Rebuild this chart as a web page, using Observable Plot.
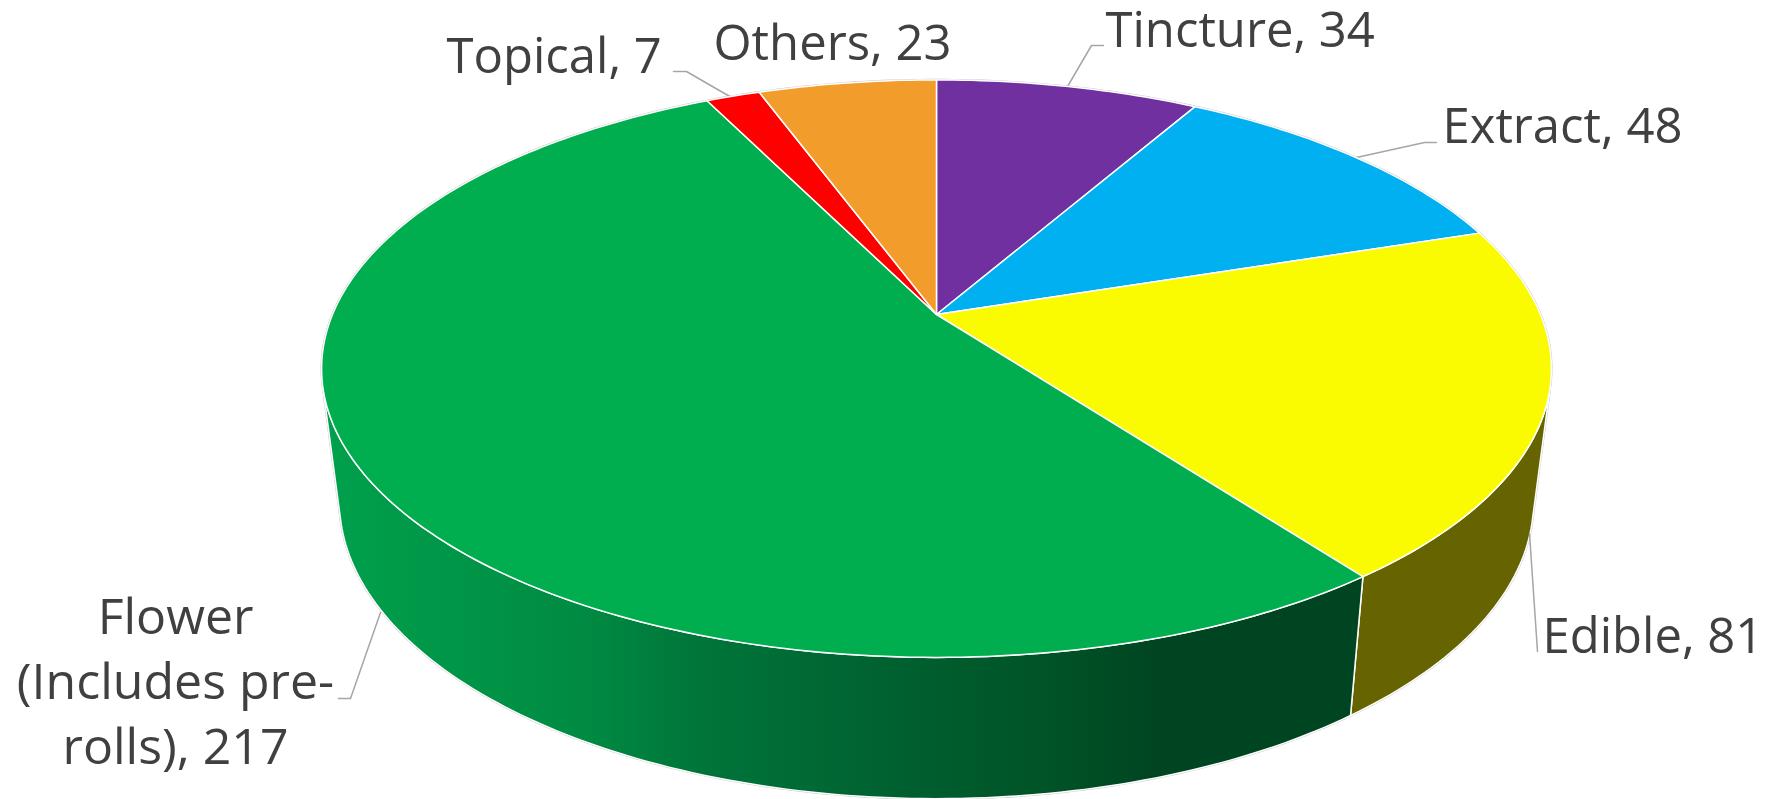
<!DOCTYPE html>
<html>
<head>
<meta charset="utf-8">
<script src="https://cdn.jsdelivr.net/npm/d3@7"></script>
<script src="https://cdn.jsdelivr.net/npm/@observablehq/plot@0.6"></script>
<style>html,body{margin:0;padding:0;background:#fff}svg{display:block}</style>
</head>
<body>
<div id="chart"></div>
<script>
// Data, clockwise from 12 o'clock
const categories = ["Tincture", "Extract", "Edible", "Flower\n(Includes pre-\nrolls)", "Topical", "Others"];
const values = [34, 48, 81, 217, 7, 23];
const topColors = ["#7030A0", "#00B0F0", "#FAFA00", "#00AE50", "#FF0000", "#F19C2B"];
const wallColors = ["#43205F", "#006A90", "#666400", "url(#flowerWall)", "#990000", "#90601A"];

// Layout of the tilted disc (perspective projection)
const W = 1769, H = 799;
const disc = {cx: 936, apexY: 314, A: 604, B: 278.6, k: 0.1875};
const floor = {sx: 0.971, sy: 1.03, apexY: 445};
const visible = [104, 256];
const wallStops = [[0, "#00A04C"], [0.07, "#009A49"], [0.25, "#008A42"], [0.35, "#00763A"], [0.55, "#006030"], [0.7, "#005326"], [0.8, "#004522"], [1, "#004522"]];
const labelLayout = [
  {x: 1105, y: 46, leader: [[1103, 45], [1091, 45], [1067, 86]]},
  {x: 1442, y: 142, leader: [[1436, 142], [1424, 142], [1356, 157]]},
  {x: 1542, y: 652, leader: [[1537, 651], [1529, 533]]},
  {x: 175, y: 763, anchor: "middle", leader: [[338, 698], [350, 698], [380, 612]]},
  {x: 446, y: 72, leader: [[673, 71], [686, 71], [731, 97]]},
  {x: 713, y: 59, leader: []}
];

const total = d3.sum(values);
const rad = d => d * Math.PI / 180;
function rim(deg) {
  const s = Math.sin(rad(deg)), c = Math.cos(rad(deg)), den = 1 + disc.k * c;
  return {dx: disc.A * s / den, dy: -disc.B * c / den};
}
const topPt = deg => { const r = rim(deg); return [disc.cx + r.dx, disc.apexY + r.dy]; };
const lowPt = deg => { const r = rim(deg); return [disc.cx + floor.sx * r.dx, floor.apexY + floor.sy * r.dy]; };
function sweep(a0, a1, f) {
  const n = Math.max(2, Math.ceil(Math.abs(a1 - a0)));
  return d3.range(n + 1).map(i => f(a0 + (a1 - a0) * i / n));
}

let acc = 0;
const slices = values.map((v, i) => {
  const a0 = acc / total * 360; acc += v; const a1 = acc / total * 360;
  return {i, a0, a1};
});

const topPolys = slices.map(s => {
  const pts = [[disc.cx, disc.apexY], ...sweep(s.a0, s.a1, topPt), [disc.cx, disc.apexY]];
  return {color: topColors[s.i], pts};
});
const wallPolys = slices.filter(s => s.a1 > visible[0] && s.a0 < visible[1]).map(s => {
  const a0 = Math.max(s.a0, visible[0]), a1 = Math.min(s.a1, visible[1]);
  const top = sweep(a0, a1, topPt), low = sweep(a1, a0, lowPt);
  return {color: wallColors[s.i], pts: [...top, ...low, top[0]]};
});
// Faint grey halo around the outer silhouette
const outline = [...sweep(visible[1], 360 + visible[0], topPt), ...sweep(visible[0], visible[1], lowPt), topPt(visible[1])];

const polyMark = (p, sw) => Plot.line(p.pts, {
  x: d => d[0], y: d => d[1], fill: p.color, stroke: "#FFFFFF", strokeWidth: sw, curve: "linear"
});

const labels = categories.map((c, i) => ({text: `${c}, ${values[i]}`, ...labelLayout[i]}));
const defsMark = () => {
  const ns = "http://www.w3.org/2000/svg";
  const g = document.createElementNS(ns, "g");
  const defs = document.createElementNS(ns, "defs");
  const lg = document.createElementNS(ns, "linearGradient");
  lg.setAttribute("id", "flowerWall");
  lg.setAttribute("gradientUnits", "userSpaceOnUse");
  lg.setAttribute("x1", 330); lg.setAttribute("x2", 1360);
  lg.setAttribute("y1", 0); lg.setAttribute("y2", 0);
  for (const [o, col] of wallStops) {
    const st = document.createElementNS(ns, "stop");
    st.setAttribute("offset", o); st.setAttribute("stop-color", col);
    lg.appendChild(st);
  }
  defs.appendChild(lg); g.appendChild(defs);
  return g;
};

const textStyle = {x: "x", y: "y", text: "text", lineAnchor: "bottom", fontFamily: "'Open Sans'", fontSize: 49, fill: "#404040"};

const chart = Plot.plot({
  width: W, height: H,
  marginTop: 0, marginRight: 0, marginBottom: 0, marginLeft: 0,
  x: {domain: [0, W], range: [0, W], axis: null},
  y: {domain: [0, H], range: [0, H], axis: null},
  style: {background: "#fff"},
  marks: [
    defsMark,
    Plot.line(outline, {x: d => d[0], y: d => d[1], stroke: "#C4C4C4", strokeWidth: 2.2, curve: "linear"}),
    ...wallPolys.map(p => polyMark(p, 1.5)),
    ...labels.filter(l => l.leader.length).map(l => Plot.line(l.leader, {
      x: d => d[0], y: d => d[1], stroke: "#A6A6A6", strokeWidth: 1.5, curve: "linear"
    })),
    ...topPolys.map(p => polyMark(p, 1.5)),
    Plot.text(labels.filter(l => l.anchor !== "middle"), {...textStyle, textAnchor: "start"}),
    Plot.text(labels.filter(l => l.anchor === "middle"), {...textStyle, textAnchor: "middle", lineHeight: 1.3, fontSize: 50})
  ]
});
document.getElementById("chart").appendChild(chart);
</script>
</body>
</html>
